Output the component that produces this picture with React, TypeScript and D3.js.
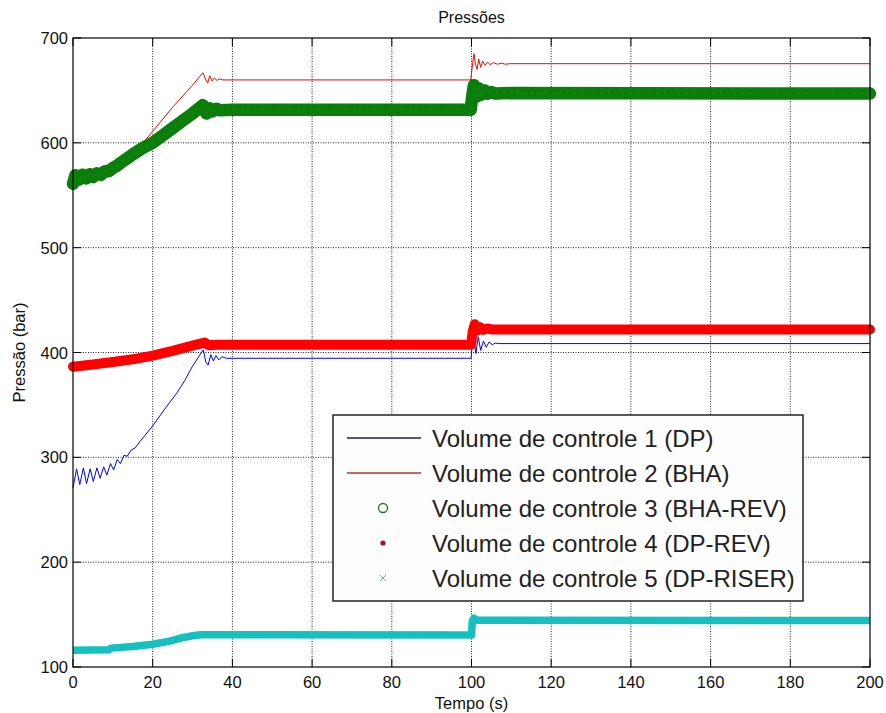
import React from 'react';
import * as d3 from 'd3';

type P = [number, number];

const xTicks = [0, 20, 40, 60, 80, 100, 120, 140, 160, 180, 200];
const yTicks = [100, 200, 300, 400, 500, 600, 700];

const chartTitle = 'Pressões';
const xLabel = 'Tempo (s)';
const yLabel = 'Pressão (bar)';

const legendLabels = [
  'Volume de controle 1 (DP)',
  'Volume de controle 2 (BHA)',
  'Volume de controle 3 (BHA-REV)',
  'Volume de controle 4 (DP-REV)',
  'Volume de controle 5 (DP-RISER)',
];

// Volume de controle 1 (DP) - blue line
const seriesDP: P[] = [
  [0, 271], [0.9, 289], [1.7, 274], [2.6, 290], [3.4, 275], [4.3, 289], [5.1, 277],
  [6.0, 290], [6.8, 280], [7.7, 291], [8.5, 283], [9.4, 294], [10.2, 288], [11.1, 298],
  [11.9, 294], [12.8, 302], [13.6, 301], [14.6, 307], [15.6, 309], [17, 316], [20, 330],
  [23, 346], [26, 361], [28, 373], [30, 387], [32.7, 402.5], [33.3, 391], [33.9, 388],
  [34.6, 398], [35.2, 392], [35.9, 397], [36.6, 393], [37.4, 396], [38.5, 394.5],
  [99.9, 394.5], [100.2, 409], [100.6, 413], [101.1, 399], [101.7, 415], [102.3, 402],
  [103, 411], [103.7, 405], [104.4, 410], [105.2, 407.5], [106, 409], [107, 408.5], [200, 408.5],
];

// Volume de controle 2 (BHA) - red line
const seriesBHA: P[] = [
  [0, 562], [5, 567], [10, 575], [13, 583], [14.3, 589], [17.6, 600], [20, 611],
  [25, 634], [30, 655], [32.6, 667], [33.2, 661], [33.8, 657], [34.3, 664], [34.9, 659],
  [35.5, 662], [36.1, 659.5], [36.8, 661], [37.6, 660], [99.8, 660], [100.3, 676],
  [100.6, 685], [101.0, 675], [101.4, 670], [101.8, 680], [102.3, 672], [102.8, 678],
  [103.4, 674], [104, 677], [104.7, 674.5], [105.5, 676.5], [106.5, 675], [107.5, 676],
  [108.5, 675], [109.7, 675.5], [200, 675.5],
];

// Volume de controle 3 (BHA-REV) - green circles
const seriesBHAREV: P[] = [
  [0, 561], [0.6, 569], [1.5, 565], [2.4, 569.5], [3.3, 566], [4.2, 570], [5.1, 567.5],
  [6.0, 571], [7.0, 569.5], [8.0, 573], [9, 573], [10, 576], [11, 578], [12, 581],
  [13.5, 585], [15, 589], [17.5, 595], [20, 600], [22.5, 607], [25, 614], [27.5, 621],
  [30, 628], [32.6, 636], [33.5, 628], [34.3, 633], [35, 630], [36, 632.5], [37, 631],
  [40, 631.5], [99.8, 631.5], [100.2, 645], [100.6, 655], [101.2, 644], [101.8, 652],
  [102.5, 646], [103.3, 650], [104, 647], [105, 648.5], [106, 647], [110, 647.5], [200, 647],
];

// Volume de controle 4 (DP-REV) - red dots
const seriesDPREV: P[] = [
  [0, 386.5], [5, 388.5], [10, 391], [15, 393.5], [20, 397], [25, 401.5], [30, 406.5],
  [33, 409.5], [34, 407], [36, 407.5], [99.9, 407.5], [100.3, 420], [100.8, 427],
  [101.5, 421], [102.2, 424], [103, 421.5], [104, 423], [105, 422], [200, 422],
];

// Volume de controle 5 (DP-RISER) - cyan crosses
const seriesDPRISER: P[] = [
  [0, 116], [9, 116.5], [9.5, 118], [15, 119.5], [20, 121.7], [24, 124.5], [26.8, 127.4],
  [30, 129.8], [32, 130.8], [100, 130.5], [100.2, 144], [100.6, 146.5], [101.5, 144.5], [200, 144.3],
];

const FONT = 'Liberation Sans, Arial, Helvetica, sans-serif';

export default function App() {
  const W = 886;
  const H = 713;
  const x = d3.scaleLinear().domain([0, 200]).range([73, 870]);
  const y = d3.scaleLinear().domain([100, 700]).range([667, 38]);
  const line = d3.line<P>().x((d) => x(d[0])).y((d) => y(d[1]));

  const [x0, x1] = x.range();
  const [y0, y1] = y.range();
  const tickLen = 8;

  const lx = 333, ly = 415, lw = 470, lh = 186;
  const rowY = (i: number) => 438 + i * 35;

  return (
    <svg
      width={W}
      height={H}
      viewBox={`0 0 ${W} ${H}`}
      style={{ position: 'absolute', left: 0, top: 0, background: '#fff' }}
      fontFamily={FONT}
    >
      <rect x={0} y={0} width={W} height={H} fill="#fff" />
      <rect x={x0} y={y1} width={x1 - x0} height={y0 - y1} fill="#fff" />

      {/* grid */}
      {xTicks.slice(1, -1).map((t) => (
        <line key={'gx' + t} x1={x(t)} x2={x(t)} y1={y0} y2={y1} stroke="#222" strokeWidth={1} strokeDasharray="1,1.5" />
      ))}
      {yTicks.slice(1, -1).map((t) => (
        <line key={'gy' + t} x1={x0} x2={x1} y1={y(t)} y2={y(t)} stroke="#222" strokeWidth={1} strokeDasharray="1,1.5" />
      ))}

      {/* series */}
      <path d={line(seriesDP) || ''} fill="none" stroke="#0000ff" strokeWidth={1} />
      <path d={line(seriesBHA) || ''} fill="none" stroke="#ff0000" strokeWidth={1} />
      <path d={line(seriesBHAREV) || ''} fill="none" stroke="#0a7d0a" strokeWidth={12.5} strokeLinejoin="round" strokeLinecap="round" />
      <path d={line(seriesBHAREV) || ''} fill="none" stroke="#1a8f1a" strokeWidth={3} strokeOpacity={0.35} strokeDasharray="4,3" />
      <path d={line(seriesDPREV) || ''} fill="none" stroke="#ff0000" strokeWidth={10} strokeLinejoin="round" strokeLinecap="round" />
      <path d={line(seriesDPRISER) || ''} fill="none" stroke="#17c0c0" strokeWidth={7.5} strokeLinejoin="round" strokeLinecap="butt" />

      {/* axes box */}
      <rect x={x0} y={y1} width={x1 - x0} height={y0 - y1} fill="none" stroke="#000" strokeWidth={1.2} />
      {xTicks.map((t) => (
        <g key={'tx' + t}>
          <line x1={x(t)} x2={x(t)} y1={y0} y2={y0 - tickLen} stroke="#000" />
          <line x1={x(t)} x2={x(t)} y1={y1} y2={y1 + tickLen} stroke="#000" />
          <text x={x(t)} y={y0 + 21} textAnchor="middle" fontSize={16.5} fill="#111">{t}</text>
        </g>
      ))}
      {yTicks.map((t) => (
        <g key={'ty' + t}>
          <line x1={x0} x2={x0 + tickLen} y1={y(t)} y2={y(t)} stroke="#000" />
          <line x1={x1} x2={x1 - tickLen} y1={y(t)} y2={y(t)} stroke="#000" />
          <text x={x0 - 5} y={y(t) + 6} textAnchor="end" fontSize={16.5} fill="#111">{t}</text>
        </g>
      ))}

      {/* labels */}
      <text x={(x0 + x1) / 2} y={23} textAnchor="middle" fontSize={16} fill="#111">{chartTitle}</text>
      <text x={(x0 + x1) / 2} y={709} textAnchor="middle" fontSize={16.5} fill="#111">{xLabel}</text>
      <text transform={`translate(25, ${(y0 + y1) / 2}) rotate(-90)`} textAnchor="middle" fontSize={16.5} fill="#111">{yLabel}</text>

      {/* legend */}
      <rect x={lx} y={ly} width={lw} height={lh} fill="#fdfdfd" stroke="#222" strokeWidth={1.5} />
      <line x1={347} x2={421} y1={rowY(0)} y2={rowY(0)} stroke="#1e1e5e" strokeWidth={1.5} />
      <line x1={347} x2={421} y1={rowY(1)} y2={rowY(1)} stroke="#b03535" strokeWidth={1.5} />
      <circle cx={383} cy={rowY(2)} r={4.5} fill="none" stroke="#2f6a2f" strokeWidth={1.3} />
      <circle cx={383} cy={rowY(3)} r={2.6} fill="#a0142a" />
      <g stroke="#7fa8a8" strokeWidth={1}>
        <line x1={380} x2={386} y1={rowY(4) - 3} y2={rowY(4) + 3} />
        <line x1={380} x2={386} y1={rowY(4) + 3} y2={rowY(4) - 3} />
      </g>
      {legendLabels.map((s, i) => (
        <text key={s} x={432} y={rowY(i) + 8.5} fontSize={24} fill="#222">{s}</text>
      ))}
    </svg>
  );
}
